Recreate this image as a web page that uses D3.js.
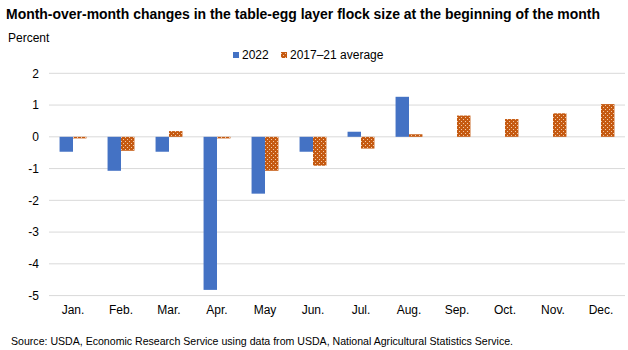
<!DOCTYPE html>
<html>
<head>
<meta charset="utf-8">
<title>Table-egg layer flock</title>
<script src="https://cdn.jsdelivr.net/npm/d3@7"></script>
<style>
  body { margin: 0; background: #fff; }
  text { font-family: "Liberation Sans", Arial, sans-serif; fill: #000; }
</style>
</head>
<body>
<script>
// data
var months = ["Jan.", "Feb.", "Mar.", "Apr.", "May", "Jun.", "Jul.", "Aug.", "Sep.", "Oct.", "Nov.", "Dec."];
var y2022 = [-0.47, -1.07, -0.47, -4.82, -1.79, -0.47, 0.16, 1.26, null, null, null, null];
var avg1721 = [-0.05, -0.44, 0.18, -0.05, -1.07, -0.91, -0.37, 0.08, 0.67, 0.56, 0.74, 1.03];
var seriesNames = ["2022", "2017\u201321 average"];
var yTicks = [2, 1, 0, -1, -2, -3, -4, -5];

var width = 628, height = 350,
    plotLeft = 49, plotRight = 625, plotTop = 73.3, plotBottom = 295.6;

var svg = d3.select("body").append("svg")
  .attr("width", width).attr("height", height);

// dotted fill like excel pattern
var pat = svg.append("defs").append("pattern")
  .attr("id", "dots").attr("patternUnits", "userSpaceOnUse")
  .attr("width", 4).attr("height", 4);
pat.append("rect").attr("width", 4).attr("height", 4).attr("fill", "#C55A11");
pat.append("rect").attr("x", 1).attr("y", 1).attr("width", 1).attr("height", 1).attr("fill", "#f3c9a8");
pat.append("rect").attr("x", 3).attr("y", 3).attr("width", 1).attr("height", 1).attr("fill", "#f3c9a8");

var y = d3.scaleLinear().domain([-5, 2]).range([plotBottom, plotTop]);
var x = d3.scaleBand().domain(months).range([plotLeft, plotRight]).paddingInner(0.44).paddingOuter(0.22);
var xs = d3.scaleBand().domain([0, 1]).range([0, x.bandwidth()]);

// title etc
svg.append("text").attr("x", 6).attr("y", 19)
  .attr("font-size", 14).attr("font-weight", "bold")
  .attr("textLength", 594).attr("lengthAdjust", "spacingAndGlyphs")
  .text("Month-over-month changes in the table-egg layer flock size at the beginning of the month");
svg.append("text").attr("x", 8).attr("y", 42).attr("font-size", 12).text("Percent");

// gridlines
svg.append("g").selectAll("line").data(yTicks).join("line")
  .attr("x1", plotLeft).attr("x2", plotRight)
  .attr("y1", function(d) { return y(d); }).attr("y2", function(d) { return y(d); })
  .attr("stroke", "#d9d9d9").attr("stroke-width", 1);

// y axis labels (plain hyphen like the original)
var yAxis = d3.axisLeft(y).tickValues(yTicks).tickSize(0).tickPadding(0)
  .tickFormat(function(d) { return String(d); });
var ya = svg.append("g").attr("transform", "translate(39,0)").call(yAxis);
ya.select(".domain").remove();
ya.selectAll("text").attr("font-size", 12).attr("font-family", null);

// x axis labels
var xAxis = d3.axisBottom(x).tickSize(0).tickPadding(0);
var xa = svg.append("g").attr("transform", "translate(0,305)").call(xAxis);
xa.select(".domain").remove();
xa.selectAll("text").attr("font-size", 12).attr("font-family", null);

// bars
var series = [y2022, avg1721];
var fills = ["#4472C4", "url(#dots)"];
series.forEach(function(vals, si) {
  svg.append("g").selectAll("rect")
    .data(vals.map(function(v, i) { return { m: months[i], v: v }; }).filter(function(d) { return d.v !== null; }))
    .join("rect")
    .attr("x", function(d) { return x(d.m) + xs(si); })
    .attr("width", xs.bandwidth())
    .attr("y", function(d) { return y(Math.max(0, d.v)); })
    .attr("height", function(d) { return Math.abs(y(d.v) - y(0)); })
    .attr("fill", fills[si]);
});

// legend
var leg = svg.append("g");
var legX = [233, 281];
seriesNames.forEach(function(n, i) {
  leg.append("rect").attr("x", legX[i]).attr("y", 52).attr("width", 6).attr("height", 6).attr("fill", fills[i]);
  leg.append("text").attr("x", legX[i] + 9).attr("y", 59).attr("font-size", 12).text(n);
});

svg.append("text").attr("x", 11).attr("y", 345).attr("font-size", 11)
  .attr("textLength", 502).attr("lengthAdjust", "spacingAndGlyphs")
  .text("Source: USDA, Economic Research Service using data from USDA, National Agricultural Statistics Service.");
</script>
</body>
</html>
